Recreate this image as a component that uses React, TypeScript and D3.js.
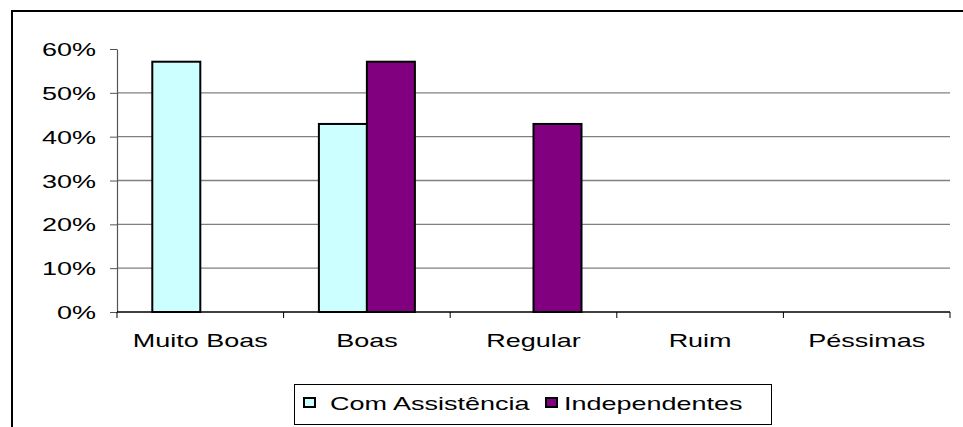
import { useEffect, useRef } from 'react'
import * as d3 from 'd3'

const categories = ['Muito Boas', 'Boas', 'Regular', 'Ruim', 'Péssimas']
const seriesNames = ['Com Assistência', 'Independentes']
const comAssistencia = [0.571, 0.429, 0, 0, 0]
const independentes = [0, 0.571, 0.429, 0, 0]
const yTicks = [0, 0.1, 0.2, 0.3, 0.4, 0.5, 0.6]
const colors = ['#CCFFFF', '#800080']

export default function App() {
  const svgRef = useRef<SVGSVGElement>(null)

  useEffect(() => {
    if (!svgRef.current) return
    const svg = d3.select(svgRef.current)
    svg.selectAll('*').remove()

    const font = 'Liberation Sans, Arial, sans-serif'
    const fs = 19
    const stretch = 1.42 // source image is stretched horizontally
    const left = 117
    const right = 950
    const top = 49
    const bottom = 312

    const label = (g: d3.Selection<any, any, any, any>, x: number, y: number, text: string, anchor: string) =>
      g.append('text')
        .attr('transform', `translate(${x},${y}) scale(${stretch},1)`)
        .attr('text-anchor', anchor)
        .style('font-family', font)
        .style('font-size', `${fs}px`)
        .attr('fill', '#000')
        .text(text)

    // outer frame (cut off on right and bottom)
    svg.append('path')
      .attr('d', 'M12,427 L12,11 L963,11')
      .attr('fill', 'none')
      .attr('stroke', '#000')
      .attr('stroke-width', 2)

    const x = d3.scaleBand().domain(categories).range([left, right])
    const y = d3.scaleLinear().domain([0, 0.6]).range([bottom, top])

    // gridlines
    svg.append('g')
      .selectAll('line')
      .data(yTicks.filter(t => t > 0 && t < 0.6))
      .enter()
      .append('line')
      .attr('x1', left)
      .attr('x2', right)
      .attr('y1', d => y(d))
      .attr('y2', d => y(d))
      .attr('stroke', '#808080')
      .attr('stroke-width', 1.3)

    // y axis
    const yAxis = svg.append('g')
      .attr('transform', `translate(${left},0)`)
      .call(d3.axisLeft(y).tickValues(yTicks).tickFormat(() => '').tickSize(7).tickSizeOuter(0))
    yAxis.select('.domain').attr('stroke', '#555').attr('stroke-width', 1.2)
    yAxis.selectAll('.tick line').attr('stroke', '#555')
    const yl = svg.append('g')
    yTicks.forEach(t => label(yl, 96, y(t) + 7, `${Math.round(t * 100)}%`, 'end'))

    // bars
    const groupW = 96
    const barW = groupW / 2
    const series = [comAssistencia, independentes]
    series.forEach((vals, si) => {
      svg.append('g')
        .selectAll('rect')
        .data(vals.map((v, i) => ({ v, c: categories[i] })).filter(d => d.v > 0))
        .enter()
        .append('rect')
        .attr('x', d => (x(d.c) as number) + x.bandwidth() / 2 - groupW / 2 + si * barW)
        .attr('y', d => y(d.v))
        .attr('width', barW)
        .attr('height', d => bottom - y(d.v))
        .attr('fill', colors[si])
        .attr('stroke', '#000')
        .attr('stroke-width', 2)
    })

    // x axis
    const xAxis = svg.append('g')
      .attr('transform', `translate(0,${bottom})`)
    xAxis.append('line')
      .attr('x1', left)
      .attr('x2', right)
      .attr('stroke', '#000')
      .attr('stroke-width', 1.5)
    xAxis.selectAll('line.tk')
      .data(d3.range(categories.length + 1))
      .enter()
      .append('line')
      .attr('class', 'tk')
      .attr('x1', i => left + i * x.step())
      .attr('x2', i => left + i * x.step())
      .attr('y1', 0)
      .attr('y2', 6)
      .attr('stroke', '#000')
    categories.forEach(c => label(xAxis, (x(c) as number) + x.bandwidth() / 2, 35, c, 'middle'))

    // legend
    const lg = svg.append('g')
    lg.append('rect')
      .attr('x', 294.5)
      .attr('y', 384.5)
      .attr('width', 477)
      .attr('height', 40)
      .attr('fill', '#fff')
      .attr('stroke', '#000')
      .attr('stroke-width', 1)
    const items = [
      { name: seriesNames[0], sx: 304, tx: 330 },
      { name: seriesNames[1], sx: 546, tx: 564 },
    ]
    items.forEach((it, i) => {
      lg.append('rect')
        .attr('x', it.sx)
        .attr('y', 398)
        .attr('width', 11)
        .attr('height', 9)
        .attr('fill', colors[i])
        .attr('stroke', '#000')
        .attr('stroke-width', 2)
      label(lg, it.tx, 410, it.name, 'start')
    })
  }, [])

  return (
    <svg
      ref={svgRef}
      width={963}
      height={427}
      style={{ position: 'absolute', left: 0, top: 0, background: '#fff' }}
    />
  )
}
